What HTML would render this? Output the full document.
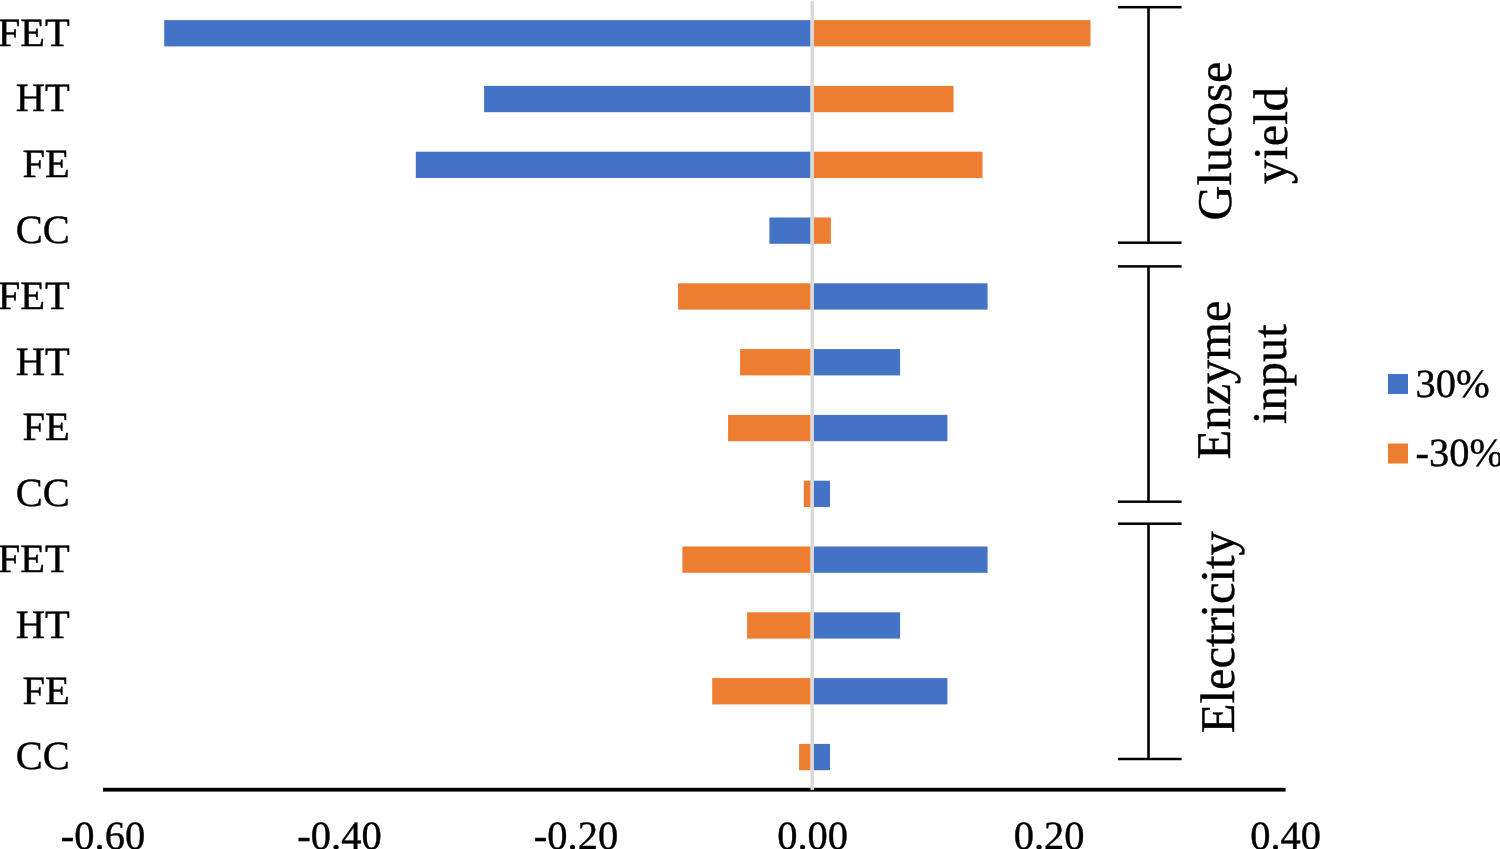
<!DOCTYPE html>
<html><head><meta charset="utf-8"><style>
html,body{margin:0;padding:0;background:#fff;}
body{width:1500px;height:849px;overflow:hidden;}
svg{display:block;will-change:transform;text-rendering:geometricPrecision;font-family:"Liberation Serif", serif;font-size:40.5px;fill:#000;}
text{stroke:#000;stroke-width:0.4px;}
</style></head><body>
<svg width="1500" height="849" viewBox="0 0 1500 849">
<rect x="164.2" y="20.1" width="646.4" height="26.3" fill="#4472C4"/>
<rect x="813.8" y="20.1" width="276.7" height="26.3" fill="#ED7D31"/>
<text transform="translate(69.8,45.55) scale(1,0.99)" text-anchor="end">FET</text>
<rect x="484.1" y="85.9" width="326.5" height="26.3" fill="#4472C4"/>
<rect x="813.8" y="85.9" width="139.7" height="26.3" fill="#ED7D31"/>
<text transform="translate(69.8,111.35) scale(1,0.99)" text-anchor="end">HT</text>
<rect x="415.8" y="151.7" width="394.8" height="26.3" fill="#4472C4"/>
<rect x="813.8" y="151.7" width="168.7" height="26.3" fill="#ED7D31"/>
<text transform="translate(69.8,177.15) scale(1,0.99)" text-anchor="end">FE</text>
<rect x="769.4" y="217.5" width="41.2" height="26.3" fill="#4472C4"/>
<rect x="813.8" y="217.5" width="17.1" height="26.3" fill="#ED7D31"/>
<text transform="translate(69.8,242.95) scale(1,0.99)" text-anchor="end">CC</text>
<rect x="813.8" y="283.3" width="173.8" height="26.3" fill="#4472C4"/>
<rect x="678.1" y="283.3" width="132.5" height="26.3" fill="#ED7D31"/>
<text transform="translate(69.8,308.75) scale(1,0.99)" text-anchor="end">FET</text>
<rect x="813.8" y="349.1" width="86.3" height="26.3" fill="#4472C4"/>
<rect x="740.1" y="349.1" width="70.5" height="26.3" fill="#ED7D31"/>
<text transform="translate(69.8,374.55) scale(1,0.99)" text-anchor="end">HT</text>
<rect x="813.8" y="414.9" width="133.6" height="26.3" fill="#4472C4"/>
<rect x="728.1" y="414.9" width="82.5" height="26.3" fill="#ED7D31"/>
<text transform="translate(69.8,440.35) scale(1,0.99)" text-anchor="end">FE</text>
<rect x="813.8" y="480.7" width="16.2" height="26.3" fill="#4472C4"/>
<rect x="803.8" y="480.7" width="6.8" height="26.3" fill="#ED7D31"/>
<text transform="translate(69.8,506.15) scale(1,0.99)" text-anchor="end">CC</text>
<rect x="813.8" y="546.5" width="173.8" height="26.3" fill="#4472C4"/>
<rect x="682.4" y="546.5" width="128.2" height="26.3" fill="#ED7D31"/>
<text transform="translate(69.8,571.95) scale(1,0.99)" text-anchor="end">FET</text>
<rect x="813.8" y="612.3" width="86.3" height="26.3" fill="#4472C4"/>
<rect x="747.1" y="612.3" width="63.5" height="26.3" fill="#ED7D31"/>
<text transform="translate(69.8,637.75) scale(1,0.99)" text-anchor="end">HT</text>
<rect x="813.8" y="678.1" width="133.6" height="26.3" fill="#4472C4"/>
<rect x="712.2" y="678.1" width="98.4" height="26.3" fill="#ED7D31"/>
<text transform="translate(69.8,703.55) scale(1,0.99)" text-anchor="end">FE</text>
<rect x="813.8" y="743.9" width="16.2" height="26.3" fill="#4472C4"/>
<rect x="799.1" y="743.9" width="11.5" height="26.3" fill="#ED7D31"/>
<text transform="translate(69.8,769.35) scale(1,0.99)" text-anchor="end">CC</text>
<rect x="103" y="787.8" width="1182.6" height="3.8" fill="#000"/>
<rect x="810.4" y="0.8" width="3.6" height="789" fill="#D9D9D9"/>
<text transform="translate(103.0,848.6) scale(1,0.99)" text-anchor="middle">-0.60</text>
<text transform="translate(339.5,848.6) scale(1,0.99)" text-anchor="middle">-0.40</text>
<text transform="translate(576.0,848.6) scale(1,0.99)" text-anchor="middle">-0.20</text>
<text transform="translate(812.6,848.6) scale(1,0.99)" text-anchor="middle">0.00</text>
<text transform="translate(1049.1,848.6) scale(1,0.99)" text-anchor="middle">0.20</text>
<text transform="translate(1285.6,848.6) scale(1,0.99)" text-anchor="middle">0.40</text>
<rect x="1118" y="5.95" width="63.6" height="2.5" fill="#000"/>
<rect x="1118" y="241.45" width="63.6" height="2.5" fill="#000"/>
<rect x="1147.2" y="7.20" width="2.6" height="235.50" fill="#000"/>
<rect x="1118" y="265.15" width="63.6" height="2.5" fill="#000"/>
<rect x="1118" y="500.45" width="63.6" height="2.5" fill="#000"/>
<rect x="1147.2" y="266.40" width="2.6" height="235.30" fill="#000"/>
<rect x="1118" y="522.45" width="63.6" height="2.5" fill="#000"/>
<rect x="1118" y="757.75" width="63.6" height="2.5" fill="#000"/>
<rect x="1147.2" y="523.70" width="2.6" height="235.30" fill="#000"/>
<text transform="translate(1231.2,141.0) rotate(-90)" text-anchor="middle" font-size="48.5">Glucose</text>
<text transform="translate(1287.3,135.5) rotate(-90)" text-anchor="middle" font-size="48.5">yield</text>
<text transform="translate(1230.0,380) rotate(-90)" text-anchor="middle" font-size="48.5">Enzyme</text>
<text transform="translate(1286.0,374.2) rotate(-90)" text-anchor="middle" font-size="48.5">input</text>
<text transform="translate(1233.6,632.2) rotate(-90)" text-anchor="middle" font-size="48.5">Electricity</text>
<rect x="1388" y="374" width="20" height="20" fill="#4472C4"/>
<rect x="1388" y="443.5" width="20" height="20" fill="#ED7D31"/>
<text transform="translate(1415.5,396.7) scale(1,0.99)">30%</text>
<text transform="translate(1415.5,466.0) scale(1,0.99)">-30%</text>
</svg>
</body></html>
